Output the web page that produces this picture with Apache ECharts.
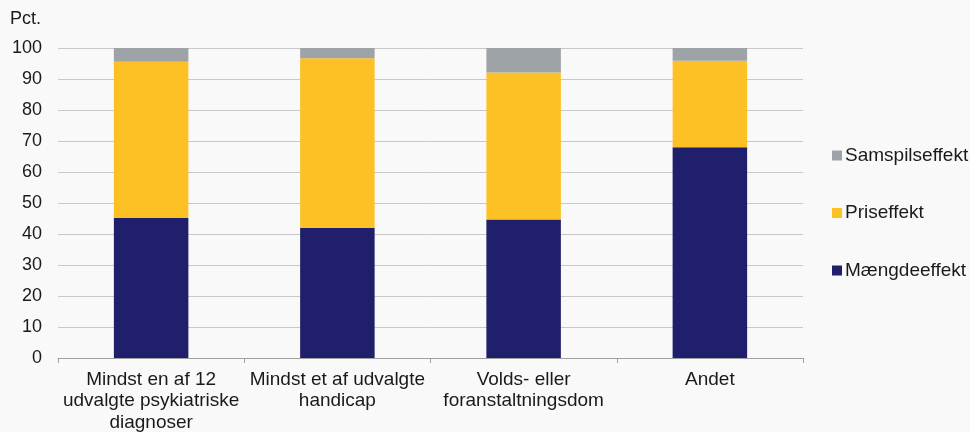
<!DOCTYPE html>
<html><head><meta charset="utf-8">
<script src="https://cdn.jsdelivr.net/npm/echarts@6/dist/echarts.min.js"></script>
<style>html,body{margin:0;padding:0;background:#f9f9fa;}#c{width:970px;height:432px;}</style>
</head><body><div id="c"></div>
<script>
var categories = ['Mindst en af 12\nudvalgte psykiatriske\ndiagnoser', 'Mindst et af udvalgte\nhandicap', 'Volds- eller\nforanstaltningsdom', 'Andet'];
var maengde = [45.2, 42.0, 44.7, 68.0];
var pris = [50.4, 54.7, 47.4, 27.9];
var samspil = [4.4, 3.3, 7.9, 4.1];
var yTicks = [0, 10, 20, 30, 40, 50, 60, 70, 80, 90, 100];
var chart = echarts.init(document.getElementById('c'));
var font = 'Liberation Sans, Arial, sans-serif';
chart.setOption({
  backgroundColor: '#f9f9fa',
  animation: false,
  textStyle: {fontFamily: font},
  graphic: [{type: 'text', left: 10, top: 10, style: {text: 'Pct.', font: '18px ' + font, fill: '#1a1a1a'}}],
  grid: {left: 58, right: 167, top: 48, bottom: 74, containLabel: false, outerBoundsMode: 'none'},
  legend: {
    orient: 'vertical', left: 827, top: 141, itemGap: 38.5, itemWidth: 10, itemHeight: 10,
    icon: 'rect', data: ['Samspilseffekt', 'Priseffekt', 'Mængdeeffekt'],
    textStyle: {fontSize: 19, color: '#1a1a1a', fontFamily: font, padding: [0, 0, 0, -2]}
  },
  xAxis: {
    type: 'category', data: categories,
    axisLine: {lineStyle: {color: '#a0a0a0'}},
    axisTick: {show: true, length: 5, lineStyle: {color: '#a0a0a0'}},
    axisLabel: {fontSize: 19, color: '#1a1a1a', lineHeight: 21.5, margin: 11, interval: 0}
  },
  yAxis: {
    type: 'value', min: yTicks[0], max: yTicks[yTicks.length - 1], interval: 10,
    axisLine: {show: false}, axisTick: {show: false},
    splitLine: {lineStyle: {color: '#c8c8c8'}},
    axisLabel: {fontSize: 18, color: '#1a1a1a', margin: 16}
  },
  series: [
    {name: 'Mængdeeffekt', type: 'bar', stack: 's', data: maengde, barWidth: '40%', itemStyle: {color: '#1f1f6b'}},
    {name: 'Priseffekt', type: 'bar', stack: 's', data: pris, itemStyle: {color: '#fdc126'}},
    {name: 'Samspilseffekt', type: 'bar', stack: 's', data: samspil, itemStyle: {color: '#9ea3a8'}}
  ]
});
</script></body></html>
